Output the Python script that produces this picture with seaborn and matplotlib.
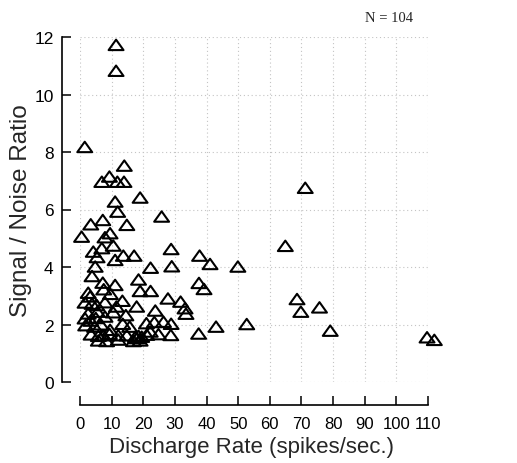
import matplotlib
matplotlib.use("Agg")
import matplotlib.pyplot as plt
import seaborn as sns
import pandas as pd
from matplotlib.path import Path

# Discharge rate (spikes/sec.) and signal/noise ratio for each cell (N = 104)
discharge_rate = [
    11.4, 11.4, 1.5, 14.0, 9.3, 6.9, 11.8, 13.9, 19.0, 11.1,
    11.9, 25.8, 3.4, 7.2, 14.8, 0.5, 9.5, 7.9, 4.2, 6.9,
    10.5, 5.4, 11.1, 13.7, 17.1, 28.8, 37.8, 41.1, 49.9, 29.0,
    22.3, 4.8, 3.8, 7.2, 11.1, 18.5, 37.6, 39.2, 7.5, 19.0,
    22.3, 9.6, 2.6,
    1.6, 3.8, 5.3, 7.9, 11.5, 13.4, 17.9, 27.8, 31.8, 33.2, 33.5,
    2.6, 5.5, 7.9, 23.8, 1.6, 3.4, 5.0,
    13.5, 15.7, 21.0, 23.5, 26.4, 28.8, 43.0, 52.7, 9.5,
    3.5, 5.8, 7.4, 9.3, 12.1, 14.8, 18.5, 21.1, 22.2, 24.8,
    28.7, 37.5, 79.1, 109.7, 112.0,
    5.8, 8.4, 12.1, 16.9, 19.0, 18.0, 17.5, 19.5,
    71.2, 64.9, 68.6, 69.8, 75.7,
    1.8, 4.6, 6.6, 10.5, 3.2, 14.5,
]
snr = [
    11.7, 10.8, 8.15, 7.5, 7.12, 6.94, 6.94, 6.94, 6.39, 6.25,
    5.90, 5.73, 5.46, 5.61, 5.44, 5.03, 5.15, 5.01, 4.51, 4.63,
    4.72, 4.32, 4.22, 4.37, 4.37, 4.60, 4.37, 4.08, 3.99, 4.0,
    3.95, 3.99, 3.66, 3.43, 3.35, 3.54, 3.42, 3.21, 3.2, 3.14,
    3.14, 3.04, 3.08,
    2.74, 2.7, 2.65, 2.75, 2.6, 2.8, 2.6, 2.88, 2.77, 2.54, 2.35,
    2.36, 2.42, 2.25, 2.46, 2.19, 2.11, 2.2,
    2.0, 1.9, 2.02, 2.06, 2.07, 2.0, 1.90, 1.99, 1.79,
    1.63, 1.58, 1.6, 1.65, 1.6, 1.6, 1.58, 1.62, 1.73, 1.64,
    1.61, 1.66, 1.76, 1.53, 1.44,
    1.42, 1.4, 1.45, 1.4, 1.42, 1.5, 1.55, 1.55,
    6.73, 4.71, 2.86, 2.42, 2.57,
    1.95, 1.9, 1.98, 2.4, 2.95, 2.3,
]
x_ticks = [0, 10, 20, 30, 40, 50, 60, 70, 80, 90, 100, 110]
y_ticks = [0, 2, 4, 6, 8, 10, 12]
annotation = "N = 104"

df = pd.DataFrame({"rate": discharge_rate, "snr": snr})

sns.set_style("ticks")
plt.rcParams["font.family"] = ["Liberation Sans", "DejaVu Sans"]

fig = plt.figure(figsize=(5.17, 4.64), dpi=100)
ax = fig.add_axes([80 / 517, 81 / 464, 348 / 517, 345 / 464])

tri = Path([(-1.0, -0.6), (1.0, -0.6), (0.0, 0.8), (-1.0, -0.6)],
           [Path.MOVETO, Path.LINETO, Path.LINETO, Path.CLOSEPOLY])

sns.scatterplot(data=df, x="rate", y="snr", ax=ax, marker=tri, s=115,
                facecolor="none", edgecolor="black", linewidth=1.5,
                clip_on=False, zorder=3)

ax.set_xlim(0, 110)
ax.set_ylim(0, 12)
ax.set_xticks(x_ticks)
ax.set_yticks(y_ticks)
ax.set_xticklabels([str(t) for t in x_ticks])
ax.set_yticklabels([str(t) for t in y_ticks])

ax.grid(True, color="#c4c4c4", linestyle=(0, (1, 2.5)), linewidth=0.8)
ax.set_axisbelow(True)

for side in ["top", "right"]:
    ax.spines[side].set_visible(False)
ax.spines["left"].set_position(("outward", 13))
ax.spines["bottom"].set_position(("outward", 16.5))
for side in ["left", "bottom"]:
    ax.spines[side].set_linewidth(1.2)
    ax.spines[side].set_color("black")
ax.spines["left"].set_bounds(0, 12)
ax.spines["bottom"].set_bounds(0, 110)

ax.tick_params(axis="both", direction="in", length=6.5, width=1.1,
               colors="black")
ax.tick_params(axis="x", pad=8, labelsize=12)
ax.tick_params(axis="y", pad=6, labelsize=12.5)

ax.set_xlabel("Discharge Rate (spikes/sec.)", fontsize=16)
ax.set_ylabel("Signal / Noise Ratio", fontsize=17.5)
ax.xaxis.set_label_coords(0.494, -0.157)
ax.yaxis.set_label_coords(-0.137, 0.5)

fig.text(389 / 517, 1 - 18 / 464, annotation, ha="center", va="center",
         fontsize=10.5, family=["Liberation Serif", "DejaVu Serif"])

fig.savefig("out.png", dpi=100)
